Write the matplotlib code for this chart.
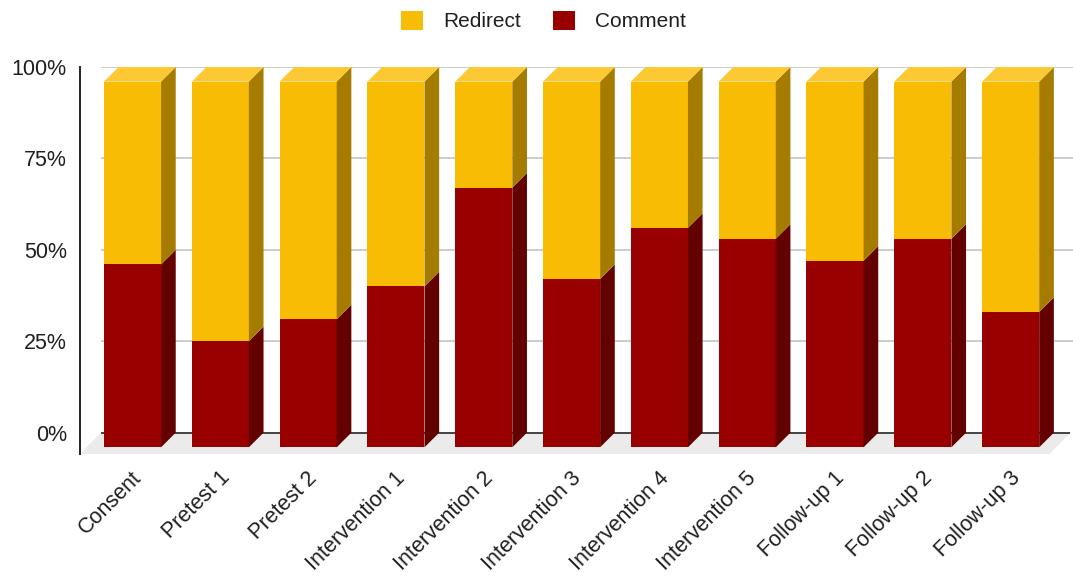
import matplotlib
matplotlib.use("Agg")
import matplotlib.pyplot as plt
from matplotlib.patches import Patch, Polygon

stages = [
    "Consent", "Pretest 1", "Pretest 2", "Intervention 1", "Intervention 2",
    "Intervention 3", "Intervention 4", "Intervention 5", "Follow-up 1",
    "Follow-up 2", "Follow-up 3",
]
comment = [50, 29, 35, 44, 71, 46, 60, 57, 51, 57, 37]
redirect = [50, 71, 65, 56, 29, 54, 40, 43, 49, 43, 63]
yticks = [0, 25, 50, 75, 100]

YELLOW = ("#f9bc05", "#a67c00", "#fcc935")  # front, side, top
RED = ("#990000", "#630000", "#b31a1a")

DX, DY = 0.167, 4.0     # depth offset of the 3d bars, in data units
WIDTH = 0.65
X0, X1 = -0.598, 10.71
Y0, Y1 = -5.83, 100

plt.rcParams["font.family"] = ["Liberation Sans", "DejaVu Sans"]

fig = plt.figure(figsize=(10.73, 5.76), dpi=100)
ax = fig.add_axes([80 / 1073, 122 / 576, 993 / 1073, 387 / 576])
ax.set_xlim(X0, X1)
ax.set_ylim(Y0, Y1)
for side in ("top", "right", "bottom"):
    ax.spines[side].set_visible(False)
ax.spines["left"].set_color("#222222")
ax.spines["left"].set_linewidth(1.4)

# floor of the chart
floor_depth = 0.239
ax.add_patch(Polygon(
    [(X0, Y0), (X0 + floor_depth, 0), (10.68, 0), (10.68 - floor_depth, Y0)],
    closed=True, facecolor="#ebebeb", edgecolor="none", zorder=0,
))

# back-wall gridlines
ax.hlines([25, 50, 75, 100], -0.36, X1, color="#cccccc", lw=1.4, zorder=1)
ax.hlines(0, -0.36, 10.68, color="#444444", lw=1.4, zorder=1)


def draw_block(x, lo, hi, colors, top=False):
    front, side, cap = colors
    left, right = x - WIDTH / 2, x + WIDTH / 2
    ax.add_patch(Polygon(
        [(left, lo - DY), (right, lo - DY), (right, hi - DY), (left, hi - DY)],
        closed=True, facecolor=front, edgecolor="none", zorder=2,
    ))
    ax.add_patch(Polygon(
        [(right, lo - DY), (right + DX, lo), (right + DX, hi), (right, hi - DY)],
        closed=True, facecolor=side, edgecolor="none", zorder=2,
    ))
    if top:
        ax.add_patch(Polygon(
            [(left, hi - DY), (left + DX, hi), (right + DX, hi), (right, hi - DY)],
            closed=True, facecolor=cap, edgecolor="none", zorder=2,
        ))


for i, (c, r) in enumerate(zip(comment, redirect)):
    draw_block(i, 0, c, RED)
    draw_block(i, c, c + r, YELLOW, top=True)

ax.set_yticks(yticks, labels=[f"{t}%" for t in yticks])
ax.set_xticks([i + 0.07 for i in range(len(stages))], labels=stages)
ax.tick_params(axis="y", length=0, pad=9.5, labelsize=15.5, labelcolor="#1f1f1f")
ax.tick_params(axis="x", length=0, pad=15, labelsize=15.5, labelcolor="#1f1f1f")
for label in ax.get_xticklabels():
    label.set_rotation(45)
    label.set_ha("right")
    label.set_va("center")
    label.set_rotation_mode("anchor")

handles = [
    Patch(facecolor=YELLOW[0], edgecolor="none", label="Redirect"),
    Patch(facecolor=RED[0], edgecolor="none", label="Comment"),
]
fig.legend(
    handles=handles, loc="center", bbox_to_anchor=(543.5 / 1073, 1 - 21 / 576),
    ncol=2, frameon=False, fontsize=15, handlelength=1.06, handleheight=1.06,
    handletextpad=1.0, columnspacing=1.5, borderpad=0, labelcolor="#1f1f1f",
)

fig.savefig("out.png", dpi=100)
